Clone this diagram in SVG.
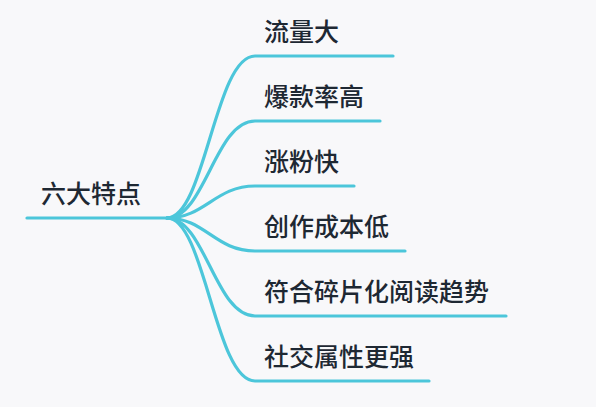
<svg xmlns="http://www.w3.org/2000/svg" width="596" height="407" viewBox="0 0 596 407">
<style>
.ln{fill:none;stroke:#4cc6da;stroke-width:3.2;stroke-linecap:round}
.t{font-family:"Noto Sans CJK SC","Noto Sans",sans-serif;font-size:25px;font-weight:500;fill:#1e2833}
</style>
<rect width="596" height="407" fill="#f8f8fa"/>
<g id="connectors">
<path class="ln" d="M27,218 H167"/>
<path class="ln" d="M167,218 C205,218 215,56 255,56 H393"/>
<path class="ln" d="M167,218 C205,218 215,121 255,121 H380"/>
<path class="ln" d="M167,218 C205,218 215,186 255,186 H354"/>
<path class="ln" d="M167,218 C205,218 215,251 255,251 H405"/>
<path class="ln" d="M167,218 C205,218 215,316 255,316 H506"/>
<path class="ln" d="M167,218 C205,218 215,381 255,381 H429"/>
</g>
<g id="root"><text class="t" x="41" y="203">六大特点</text></g>
<g id="n1"><text class="t" x="264" y="41">流量大</text></g>
<g id="n2"><text class="t" x="264" y="106">爆款率高</text></g>
<g id="n3"><text class="t" x="264" y="171">涨粉快</text></g>
<g id="n4"><text class="t" x="264" y="236">创作成本低</text></g>
<g id="n5"><text class="t" x="264" y="301">符合碎片化阅读趋势</text></g>
<g id="n6"><text class="t" x="264" y="366">社交属性更强</text></g>
</svg>
